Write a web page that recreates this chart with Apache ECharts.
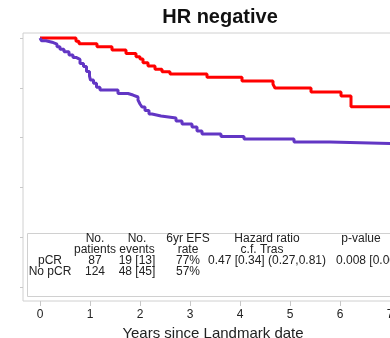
<!DOCTYPE html>
<html>
<head>
<meta charset="utf-8">
<script src="https://cdn.jsdelivr.net/npm/echarts@6/dist/echarts.min.js"></script>
<style>
  html, body { margin: 0; padding: 0; background: #fff; }
  #chart { width: 390px; height: 338px; }
</style>
</head>
<body>
<div id="chart"></div>
<script>
// pCR curve (red): event times in years, survival after each step
const pcrTimes = [0, 0.72, 0.78, 1.14, 1.44, 1.72, 1.92, 2.00, 2.06, 2.16, 2.30, 2.44, 2.60, 3.34, 4.04, 4.66, 4.70, 5.42, 6.02, 6.22, 7.4];
const pcrSurv  = [1.0, 0.987, 0.977, 0.965, 0.952, 0.938, 0.925, 0.916, 0.901, 0.888, 0.874, 0.864, 0.855, 0.842, 0.827, 0.814, 0.799, 0.783, 0.767, 0.724, 0.724];

// No pCR curve (purple)
const noPcrTimes = [0, 0.03, 0.12, 0.24, 0.34, 0.40, 0.48, 0.58, 0.66, 0.72, 0.80, 0.87, 0.93, 0.99, 1.01, 1.07, 1.13, 1.20, 1.56, 1.76, 1.86, 1.96, 2.00, 2.04, 2.10, 2.18, 2.24, 2.42, 2.72, 2.84, 3.04, 3.14, 3.24, 3.62, 4.08, 5.08, 5.80, 7.4];
const noPcrSurv  = [1.0, 0.989, 0.983, 0.975, 0.965, 0.955, 0.945, 0.932, 0.922, 0.914, 0.898, 0.885, 0.865, 0.847, 0.831, 0.818, 0.802, 0.791, 0.777, 0.771, 0.763, 0.751, 0.735, 0.723, 0.709, 0.695, 0.687, 0.679, 0.667, 0.655, 0.643, 0.627, 0.614, 0.604, 0.594, 0.582, 0.574, 0.574];

const xTicks = [0, 1, 2, 3, 4, 5, 6, 7];
const yTicks = [0, 0.2, 0.4, 0.6, 0.8, 1.0];

// inset table
const tableHead1 = ['No.', 'No.', '6yr EFS', 'Hazard ratio', 'p-value'];
const tableHead2 = ['patients', 'events', 'rate', 'c.f. Tras', ''];
const rowPcr   = ['pCR', '87', '19 [13]', '77%', '0.47 [0.34] (0.27,0.81)', '0.008 [0.001]'];
const rowNoPcr = ['No pCR', '124', '48 [45]', '57%', '', ''];

const font = "'Liberation Sans', Arial, sans-serif";
const colX = [50, 95, 137, 188, 267, 371];

function zip(a, b) { return a.map((v, i) => [v, b[i]]); }

function tableTexts() {
  const items = [];
  const put = (txt, x, y) => {
    if (!txt) return;
    items.push({ type: 'text', x: x, y: y, style: { text: txt, font: '12px ' + font, fill: '#222', align: 'center', verticalAlign: 'middle' } });
  };
  tableHead1.forEach((t, i) => put(t, i === 4 ? 361 : colX[i + 1], 239));
  tableHead2.forEach((t, i) => put(t, i === 3 ? 262 : colX[i + 1], 250));
  rowPcr.forEach((t, i) => put(t, colX[i], 261));
  rowNoPcr.forEach((t, i) => put(t, colX[i], 272));
  return items;
}

const chart = echarts.init(document.getElementById('chart'));
chart.setOption({
  animation: false,
  title: {
    text: 'HR negative',
    left: 215,
    top: 2,
    textAlign: 'center',
    textStyle: { fontFamily: font, fontSize: 20, fontWeight: 'bold', color: '#111' }
  },
  grid: {
    left: 23, top: 33, width: 380, height: 268,
    outerBoundsMode: 'none', containLabel: false,
    show: true, borderColor: '#d0d0d0', borderWidth: 1
  },
  xAxis: {
    type: 'value',
    min: -0.34, max: 7.26,
    axisLine: { show: false, onZero: false },
    axisTick: { show: true, length: 5, customValues: xTicks, lineStyle: { color: '#c8c8c8' } },
    axisLabel: { customValues: xTicks, margin: 8, fontFamily: font, fontSize: 12, color: '#222' },
    splitLine: { show: false },
    name: 'Years since Landmark date',
    nameLocation: 'middle',
    nameGap: 24,
    nameTextStyle: { fontFamily: font, fontSize: 15, color: '#222' }
  },
  yAxis: {
    type: 'value',
    min: -0.056, max: 1.02,
    axisLine: { show: false, onZero: false },
    axisTick: { show: true, length: 3, customValues: yTicks, lineStyle: { color: '#c8c8c8' } },
    axisLabel: { show: false },
    splitLine: { show: false }
  },
  series: [
    {
      type: 'line', step: 'end', showSymbol: false,
      data: zip(pcrTimes, pcrSurv),
      lineStyle: { color: '#ff0000', width: 3 }
    },
    {
      type: 'line', step: 'end', showSymbol: false,
      data: zip(noPcrTimes, noPcrSurv),
      lineStyle: { color: '#6236c4', width: 3 }
    }
  ],
  graphic: [
    {
      type: 'group',
      children: [
        { type: 'rect', shape: { x: 27.5, y: 233.5, width: 380, height: 63 }, style: { fill: '#fff', stroke: '#d0d0d0', lineWidth: 1 } }
      ].concat(tableTexts())
    }
  ]
});
</script>
</body>
</html>
